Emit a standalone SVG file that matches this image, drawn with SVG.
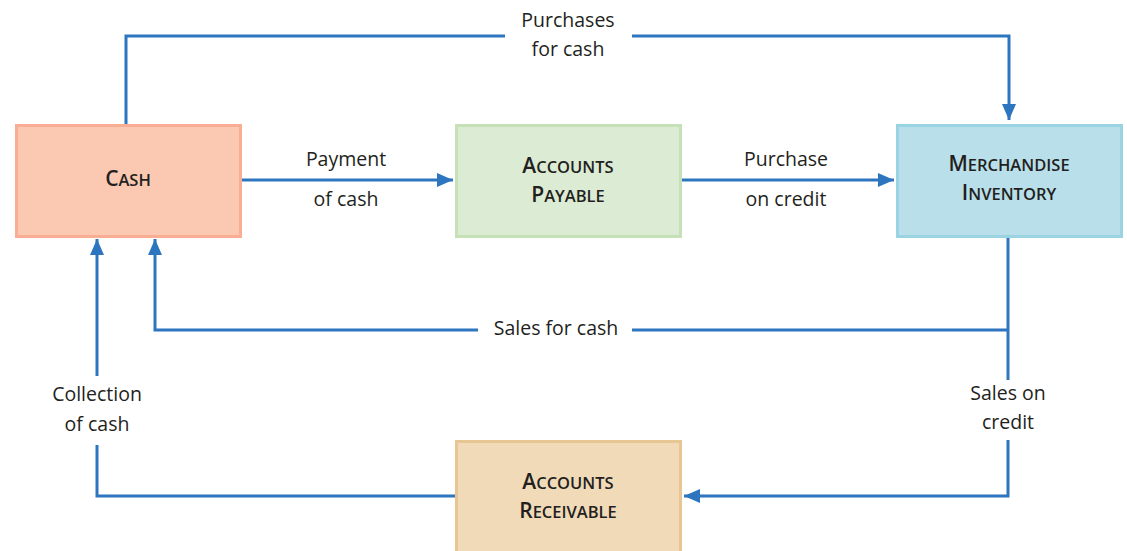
<svg xmlns="http://www.w3.org/2000/svg" width="1127" height="551" viewBox="0 0 1127 551">
<style>
.lbl{font-family:"Open Sans","Noto Sans",sans-serif;font-size:19.5px;fill:#231f20;text-anchor:middle}
.ttl{font-family:"Open Sans","Noto Sans",sans-serif;font-weight:600;font-size:16.5px;fill:#231f20;text-anchor:middle}
.big{font-size:21px}
.con{fill:none;stroke:#2e75bf;stroke-width:3}
</style>
<defs>
<marker id="ahl" markerWidth="16" markerHeight="14" viewBox="0 0 16 14" refX="16" refY="7" orient="auto" markerUnits="userSpaceOnUse">
<path d="M0,0 L16,7 L0,14 Z" fill="#2e75bf"/>
</marker>
</defs>
<g id="connectors">
<path class="con" d="M126,124 V36 H505"/>
<path class="con" d="M632,36 H1009 V120" marker-end="url(#ahl)"/>
<path class="con" d="M242,180 H453" marker-end="url(#ahl)"/>
<path class="con" d="M682,180 H894" marker-end="url(#ahl)"/>
<path class="con" d="M1008,237 V380"/>
<path class="con" d="M1008,440 V496 H684" marker-end="url(#ahl)"/>
<path class="con" d="M1008,330 H632"/>
<path class="con" d="M478,330 H155 V239" marker-end="url(#ahl)"/>
<path class="con" d="M455,496 H97 V445"/>
<path class="con" d="M97,376 V239" marker-end="url(#ahl)"/>
<text class="lbl" x="568" y="27">Purchases</text>
<text class="lbl" x="568" y="56">for cash</text>
<text class="lbl" x="346" y="166">Payment</text>
<text class="lbl" x="346" y="206">of cash</text>
<text class="lbl" x="786" y="166">Purchase</text>
<text class="lbl" x="786" y="206">on credit</text>
<text class="lbl" x="556" y="335">Sales for cash</text>
<text class="lbl" x="1008" y="400">Sales on</text>
<text class="lbl" x="1008" y="429">credit</text>
<text class="lbl" x="97" y="401">Collection</text>
<text class="lbl" x="97" y="431">of cash</text>
</g>
<g id="cash">
<rect x="16.5" y="125.5" width="224" height="111" fill="#fbc9b1" stroke="#f9ae93" stroke-width="3"/>
<text class="ttl" x="128" y="186"><tspan class="big">C</tspan>ASH</text>
</g>
<g id="accounts-payable">
<rect x="456.5" y="125.5" width="224" height="111" fill="#dcebd3" stroke="#c6e0b7" stroke-width="3"/>
<text class="ttl" x="568" y="173"><tspan class="big">A</tspan>CCOUNTS</text>
<text class="ttl" x="568" y="202"><tspan class="big">P</tspan>AYABLE</text>
</g>
<g id="merchandise-inventory">
<rect x="897.5" y="125.5" width="224" height="111" fill="#b9e0ea" stroke="#9ad3e1" stroke-width="3"/>
<text class="ttl" x="1009" y="171"><tspan class="big">M</tspan>ERCHANDISE</text>
<text class="ttl" x="1009" y="200"><tspan class="big">I</tspan>NVENTORY</text>
</g>
<g id="accounts-receivable">
<rect x="456.5" y="441.5" width="224" height="112" fill="#f0dab8" stroke="#e8c693" stroke-width="3"/>
<text class="ttl" x="568" y="489"><tspan class="big">A</tspan>CCOUNTS</text>
<text class="ttl" x="568" y="518"><tspan class="big">R</tspan>ECEIVABLE</text>
</g>
</svg>
